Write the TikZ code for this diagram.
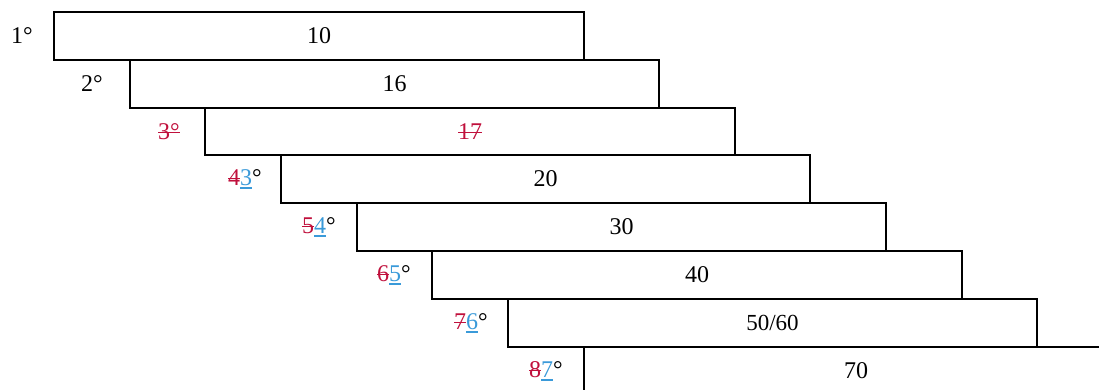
\documentclass[tikz,border=0pt]{standalone}
\usepackage{fontspec}
\setmainfont{Liberation Serif}
\definecolor{tred}{HTML}{C0103C}
\definecolor{tblue}{HTML}{3A9AD9}
\newsavebox{\mkbox}
\newcommand{\del}[1]{\textcolor{tred}{\sbox{\mkbox}{#1}\rlap{\raisebox{0.26em}{\rule{\wd\mkbox}{1.3pt}}}\usebox{\mkbox}}}
\newcommand{\ins}[1]{\textcolor{tblue}{\sbox{\mkbox}{#1}\rlap{\raisebox{-0.13em}{\rule{\wd\mkbox}{1.3pt}}}\usebox{\mkbox}}}
\begin{document}
\begin{tikzpicture}[x=1pt,y=-1pt,
  bar/.style={draw=black,line width=2pt,rectangle,anchor=north west,
    minimum width=#1,minimum height=48pt,inner sep=0pt,outer sep=0pt,
    font=\fontsize{24}{28}\selectfont},
  bar/.default=530pt,
  lab/.style={anchor=east,inner sep=0pt,font=\fontsize{24}{28}\selectfont}]
\useasboundingbox (0,0) rectangle (1099,389);
\clip (0,0) rectangle (1099,389);
\node[bar] (b1) at (54,12) {10};
\node[bar=529pt] (b2) at (130,60) {16};
\node[bar,minimum height=47pt] (b3) at (205,108) {\del{17}};
\node[bar=529pt] (b4) at (281,155) {20};
\node[bar=529pt] (b5) at (357,203) {30};
\node[bar] (b6) at (432,251) {40};
\node[bar=529pt,font=\fontsize{23}{27}\selectfont] (b7) at (508,299) {50/60};
\node[bar=530pt] (b8) at (584,347) {\hspace*{14pt}70};
\node[lab] (l1) at ([xshift=-21pt]b1.west) {1°};
\node[lab] (l2) at ([xshift=-27pt]b2.west) {2°};
\node[lab] (l3) at ([xshift=-25pt]b3.west) {\del{3°}};
\node[lab] (l4) at ([xshift=-19pt]b4.west) {\del{4}\ins{3}°};
\node[lab] (l5) at ([xshift=-21pt]b5.west) {\del{5}\ins{4}°};
\node[lab] (l6) at ([xshift=-21pt]b6.west) {\del{6}\ins{5}°};
\node[lab] (l7) at ([xshift=-20pt]b7.west) {\del{7}\ins{6}°};
\node[lab] (l8) at ([xshift=-21pt]b8.west) {\del{8}\ins{7}°};
\end{tikzpicture}
\end{document}
